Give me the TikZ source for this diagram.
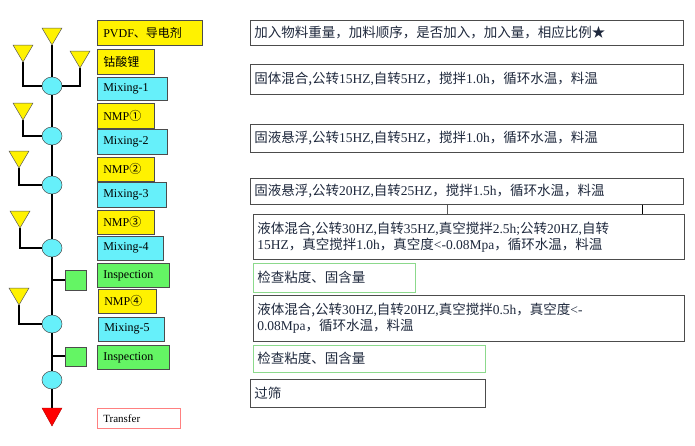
\documentclass[tikz,border=0pt]{standalone}
\usepackage{fontspec}
\setmainfont{Liberation Serif}
\newfontfamily\cjk{Noto Sans CJK SC}
\newcommand{\C}[1]{{\cjk #1}}
\usetikzlibrary{shapes.geometric,calc}
\definecolor{lcyan}{RGB}{102,240,250}
\definecolor{lgreen}{RGB}{100,245,100}
\definecolor{txt}{RGB}{30,40,60}
\begin{document}
\begin{tikzpicture}[x=1pt,y=-1pt,
  wire/.style={line width=1.6pt,black},
  tri/.style={fill=yellow,draw=gray!70!black,line width=0.5pt},
  circ/.style={ellipse,minimum width=20pt,minimum height=18pt,fill=lcyan,draw=gray!60!black,line width=0.5pt,inner sep=0pt},
  sq/.style={draw=gray!60!black,fill=lgreen,line width=0.5pt},
  lab/.style={draw=black!70,line width=0.6pt,anchor=north west,inner xsep=6pt,inner ysep=0pt,text width=#1,align=left,font=\fontsize{12}{13}\selectfont},
  ybox/.style={lab=#1,fill=yellow},
  cbox/.style={lab=#1,fill=lcyan},
  gbox/.style={lab=#1,fill=lgreen},
  rbox/.style={draw=black!70,line width=0.6pt,anchor=north west,text width=#1,align=left,inner xsep=4pt,inner ysep=3pt,text=txt,font=\fontsize{13.5}{16}\selectfont},
  rgbox/.style={rbox=#1,draw=green!50!gray!60},
]
\useasboundingbox (0,0) rectangle (695,445);
% circles
\node[circ] (c1) at (52,86) {};
\node[circ] (c2) at (52,136) {};
\node[circ] (c3) at (52,185) {};
\node[circ] (c4) at (52,248) {};
\node[circ] (c5) at (52,324) {};
\node[circ] (c6) at (52,380) {};
\coordinate (t0) at (52,45);
\coordinate (t1) at (23,62);
\coordinate (t2) at (80,68);
\coordinate (t3) at (23,120);
\coordinate (t4) at (19,168);
\coordinate (t5) at (20,228);
\coordinate (t6) at (19,305);
\coordinate (tr) at (52,408);
\coordinate (s1) at (65,280);
\coordinate (s2) at (65,356);
\coordinate (j1) at (52,280);
\coordinate (j2) at (52,356);
\coordinate (v1) at (447,0);
\coordinate (v2) at (642,0);
% wires
\draw[wire] (t0) -- (c1);
\draw[wire] (c1) -- (c2);
\draw[wire] (c2) -- (c3);
\draw[wire] (c3) -- (c4);
\draw[wire] (c4) -- (c5);
\draw[wire] (c5) -- (c6);
\draw[wire] (c6) -- (tr);
\draw[wire] (t1) |- (c1.west);
\draw[wire] (t2) |- (c1.east);
\draw[wire] (t3) |- (c2.west);
\draw[wire] (t4) |- (c3.west);
\draw[wire] (t5) |- (c4.west);
\draw[wire] (t6) |- (c5.west);
\draw[wire] (j1) -- (s1);
\draw[wire] (j2) -- (s2);
% triangles
\foreach \t in {t0,t1,t2,t3,t4,t5,t6}{
  \draw[tri] ($(\t)+(-10,-17)$) -- ($(\t)+(10,-17)$) -- (\t) -- cycle;
}
\draw[fill=red,draw=red!70!black] ($(tr)+(-10,0)$) -- ($(tr)+(10,0)$) -- ($(tr)+(0,18)$) -- cycle;
\draw[sq] (65,270) rectangle (86,290);
\draw[sq] (65,347) rectangle (86,366);
% left labels
\node[ybox=93pt,minimum height=25pt] (l1) at (97,20) {PVDF\C{、导电剂}};
\node[ybox=45pt,minimum height=25pt] (l2) at (97,49) {\C{钴酸锂}};
\node[cbox=58pt,minimum height=23pt] (l3) at (97,77) {Mixing-1};
\node[ybox=45pt,minimum height=25pt] (l4) at (97,103) {NMP\C{①}};
\node[cbox=58pt,minimum height=25pt] (l5) at (97,129) {Mixing-2};
\node[ybox=45pt,minimum height=24pt] (l6) at (97,157) {NMP\C{②}};
\node[cbox=57pt,minimum height=25pt] (l7) at (97,182) {Mixing-3};
\node[ybox=45pt,minimum height=24pt] (l8) at (97,210) {NMP\C{③}};
\node[cbox=54pt,minimum height=24pt] (l9) at (97,236) {Mixing-4};
\node[gbox=60pt,minimum height=24pt] (l10) at (97,263) {Inspection};
\node[ybox=46pt,minimum height=24pt] (l11) at (98,289) {NMP\C{④}};
\node[cbox=54pt,minimum height=24pt] (l12) at (98,317) {Mixing-5};
\node[gbox=60pt,minimum height=24pt] (l13) at (97,345) {Inspection};
\node[lab=71pt,fill=white,draw=red!50,minimum height=20pt,font=\fontsize{11}{12}\selectfont] (l14) at (97,408) {Transfer};
% right boxes
\node[rbox=425pt,minimum height=25pt] (r1) at (250,20) {\C{加入物料重量，加料顺序，是否加入，加入量，相应比例★}};
\node[rbox=425pt,minimum height=30pt] (r2) at (250,64) {\C{固体混合,公转}15HZ,\C{自转}5HZ\C{，搅拌}1.0h\C{，循环水温，料温}};
\node[rbox=425pt,minimum height=28pt] (r3) at (250,124) {\C{固液悬浮,公转}15HZ,\C{自转}5HZ\C{，搅拌}1.0h\C{，循环水温，料温}};
\node[rbox=425pt,minimum height=26pt] (r4) at (250,178) {\C{固液悬浮,公转}20HZ,\C{自转}25HZ\C{，搅拌}1.5h\C{，循环水温，料温}};
\node[rbox=423pt,minimum height=45pt] (r5) at (253,214) {\C{液体混合,公转}30HZ,\C{自转}35HZ,\C{真空搅拌}2.5h;\C{公转}20HZ,\C{自转}\\15HZ\C{，真空搅拌}1.0h\C{，真空度}<-0.08Mpa\C{，循环水温，料温}};
\node[rgbox=154pt,minimum height=29pt] (r6) at (253,263) {\C{检查粘度、固含量}};
\node[rbox=423pt,minimum height=46pt] (r7) at (253,295) {\C{液体混合,公转}30HZ,\C{自转}20HZ,\C{真空搅拌}0.5h\C{，真空度}<-\\0.08Mpa\C{，循环水温，料温}};
\node[rgbox=224pt,minimum height=27pt] (r8) at (253,345) {\C{检查粘度、固含量}};
\node[rbox=227pt,minimum height=28pt] (r9) at (250,379) {\C{过筛}};
\draw[gray!70!black,line width=0.7pt] (r4.south -| v1) -- (r5.north -| v1);
\draw[black,line width=0.7pt] (r4.south -| v2) -- (r5.north -| v2);
\end{tikzpicture}
\end{document}
